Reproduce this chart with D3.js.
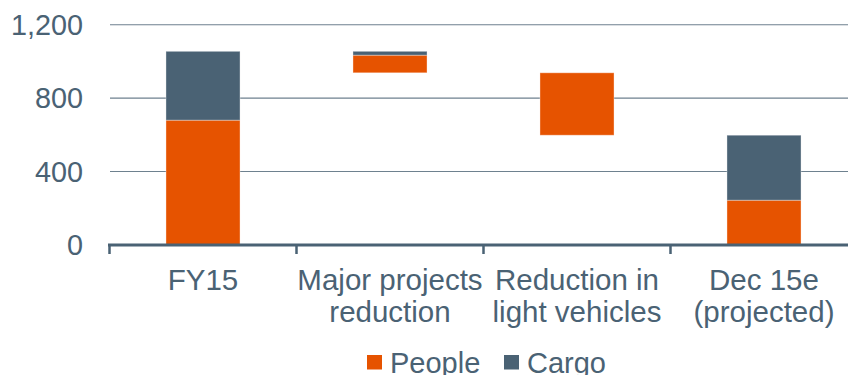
<!DOCTYPE html>
<html>
<head>
<meta charset="utf-8">
<script src="https://cdn.jsdelivr.net/npm/d3@7"></script>
<style>
  html, body { margin: 0; padding: 0; background: #fff; }
  svg { display: block; font-family: "Liberation Sans", Arial, sans-serif; }
</style>
</head>
<body>
<svg id="chart" width="848" height="375"></svg>
<script>
// Fleet size waterfall: FY15 to projected Dec 15e
const categories = ["FY15", "Major projects reduction", "Reduction in light vehicles", "Dec 15e (projected)"];
const categoryLines = [["FY15"], ["Major projects", "reduction"], ["Reduction in", "light vehicles"], ["Dec 15e", "(projected)"]];
const baseValues = [0, 938, 598, 0];      // floating offset for the step bars
const peopleValues = [680, 96, 340, 244];
const cargoValues = [375, 21, 0, 354];
const yTicks = [0, 400, 800, 1200];
const seriesNames = ["People", "Cargo"];

const colors = { People: "#e65300", Cargo: "#4a6274" };
const textColor = "#4a6274";

const svg = d3.select("#chart");

const x = d3.scaleBand().domain(categories).range([109.5, 857.5]).padding(0);
const y = d3.scaleLinear().domain([0, 1200]).range([245, 24.7]);
const barW = x.bandwidth() * 0.396;

// gridlines
svg.append("g").selectAll("line")
  .data(yTicks.filter(d => d > 0))
  .join("line")
  .attr("x1", 110).attr("x2", 848)
  .attr("y1", d => y(d)).attr("y2", d => y(d))
  .attr("stroke", "#4a6274").attr("stroke-width", 1.1).attr("opacity", 0.8);

// y tick labels
svg.append("g").selectAll("text")
  .data(yTicks)
  .join("text")
  .attr("x", 83).attr("y", d => y(d))
  .attr("dy", "0.35em")
  .attr("text-anchor", "end")
  .attr("fill", textColor)
  .attr("font-size", 28.8)
  .text(d => d3.format(",")(d));

// stacked segments
const rows = categories.map((c, i) => ({ c, base: baseValues[i], People: peopleValues[i], Cargo: cargoValues[i] }));
const segs = [];
rows.forEach(r => {
  let acc = r.base;
  seriesNames.forEach(s => {
    if (r[s] > 0) segs.push({ c: r.c, s, y0: acc, y1: acc + r[s] });
    acc += r[s];
  });
});

svg.append("g").selectAll("rect")
  .data(segs)
  .join("rect")
  .attr("x", d => x(d.c) + (x.bandwidth() - barW) / 2)
  .attr("width", barW)
  .attr("y", d => y(d.y1))
  .attr("height", d => y(d.y0) - y(d.y1))
  .attr("fill", d => colors[d.s])
  .attr("stroke", "rgba(255,255,255,0.35)")
  .attr("stroke-width", 1);

// x axis baseline with category separators
const axis = svg.append("g");
axis.append("line")
  .attr("x1", 108).attr("x2", 848)
  .attr("y1", 245).attr("y2", 245)
  .attr("stroke", "#4a6274").attr("stroke-width", 3);
axis.selectAll("line.tick")
  .data(categories)
  .join("line")
  .attr("class", "tick")
  .attr("x1", d => x(d)).attr("x2", d => x(d))
  .attr("y1", 245).attr("y2", 254)
  .attr("stroke", "#4a6274").attr("stroke-width", 2.5);

// category labels
const labels = svg.append("g").selectAll("text")
  .data(categories)
  .join("text")
  .attr("text-anchor", "middle")
  .attr("fill", textColor)
  .attr("font-size", 29.5);
labels.each(function (d, i) {
  d3.select(this).selectAll("tspan")
    .data(categoryLines[i])
    .join("tspan")
    .attr("x", x(d) + x.bandwidth() / 2)
    .attr("y", (t, j) => 289.5 + j * 32.5)
    .text(t => t);
});

// legend
const legendX = [367, 504];
const legend = svg.append("g").selectAll("g")
  .data(seriesNames)
  .join("g")
  .attr("transform", (d, i) => `translate(${legendX[i]},0)`);
legend.append("rect")
  .attr("x", 0).attr("y", 355)
  .attr("width", 15).attr("height", 14.5)
  .attr("fill", d => colors[d]);
legend.append("text")
  .attr("x", 23).attr("y", 372.5)
  .attr("fill", textColor)
  .attr("font-size", 29)
  .text(d => d);
</script>
</body>
</html>
